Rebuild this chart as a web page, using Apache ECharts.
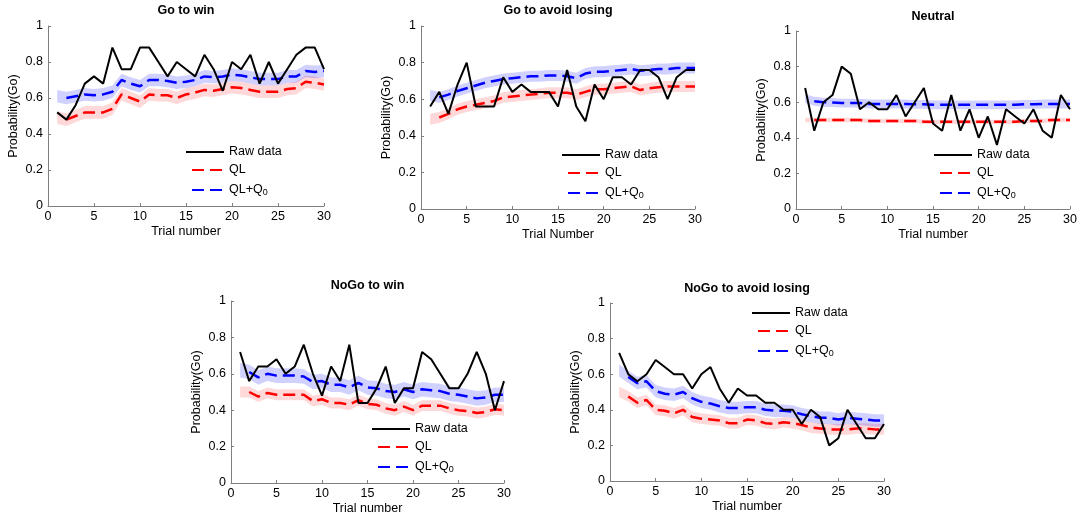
<!DOCTYPE html>
<html>
<head>
<meta charset="utf-8">
<script src="https://cdn.jsdelivr.net/npm/echarts@6/dist/echarts.min.js"></script>
<style>html,body{margin:0;padding:0;background:#fff}#c{width:1081px;height:518px}</style>
</head>
<body>
<div id="c"></div>
<script>
const trials = [1,2,3,4,5,6,7,8,9,10,11,12,13,14,15,16,17,18,19,20,21,22,23,24,25,26,27,28,29,30];
const titles = ['Go to win','Go to avoid losing','Neutral','NoGo to win','NoGo to avoid losing'];
const xNames = ['Trial number','Trial Number','Trial number','Trial number','Trial number'];
const yName = 'Probability(Go)';
const legendNames = ['Raw data','QL','QL+Q0'];

// Go to win
const rawGoWin = [0.52,0.48,0.56,0.68,0.72,0.68,0.88,0.76,0.76,0.88,0.88,0.80,0.72,0.80,0.76,0.72,0.84,0.76,0.64,0.80,0.76,0.84,0.68,0.80,0.68,0.76,0.84,0.88,0.88,0.76];
const qlGoWin  = [0.49,0.48,0.50,0.52,0.52,0.52,0.54,0.62,0.60,0.58,0.62,0.615,0.615,0.60,0.62,0.63,0.645,0.64,0.65,0.66,0.655,0.645,0.635,0.635,0.635,0.65,0.655,0.69,0.685,0.675];
const q0GoWin  = [0.61,0.60,0.61,0.62,0.615,0.62,0.635,0.70,0.68,0.665,0.70,0.70,0.695,0.685,0.69,0.70,0.72,0.715,0.72,0.73,0.725,0.715,0.705,0.705,0.705,0.72,0.72,0.75,0.745,0.75];
// Go to avoid losing
const rawGoAvoid = [0.56,0.64,0.52,0.68,0.80,0.56,0.56,0.56,0.72,0.64,0.68,0.64,0.64,0.64,0.56,0.76,0.56,0.48,0.68,0.60,0.72,0.72,0.68,0.76,0.76,0.72,0.60,0.72,0.76,0.76];
const qlGoAvoid  = [0.49,0.50,0.52,0.545,0.56,0.57,0.58,0.59,0.61,0.615,0.62,0.625,0.63,0.635,0.635,0.635,0.625,0.64,0.655,0.655,0.66,0.665,0.67,0.65,0.66,0.665,0.67,0.67,0.67,0.67];
const q0GoAvoid  = [0.62,0.61,0.625,0.645,0.66,0.675,0.69,0.70,0.71,0.715,0.72,0.725,0.725,0.73,0.73,0.725,0.715,0.74,0.75,0.75,0.755,0.76,0.765,0.755,0.76,0.765,0.765,0.77,0.77,0.77];
// Neutral
const rawNeutral = [0.68,0.44,0.60,0.64,0.80,0.76,0.56,0.60,0.56,0.56,0.64,0.52,0.60,0.68,0.48,0.44,0.64,0.44,0.56,0.40,0.52,0.36,0.56,0.52,0.48,0.56,0.44,0.40,0.64,0.56];
const qlNeutral  = [0.50,0.50,0.50,0.50,0.50,0.50,0.50,0.495,0.495,0.495,0.495,0.495,0.495,0.49,0.49,0.49,0.49,0.49,0.49,0.49,0.49,0.49,0.49,0.49,0.495,0.495,0.495,0.50,0.50,0.50];
const q0Neutral  = [0.62,0.605,0.60,0.598,0.595,0.595,0.595,0.59,0.59,0.59,0.59,0.59,0.588,0.588,0.585,0.585,0.585,0.585,0.585,0.585,0.585,0.585,0.585,0.585,0.588,0.588,0.59,0.59,0.59,0.59];
// NoGo to win
const rawNoGoWin = [0.72,0.56,0.64,0.64,0.68,0.60,0.64,0.76,0.60,0.48,0.64,0.56,0.76,0.44,0.44,0.52,0.64,0.44,0.52,0.52,0.72,0.68,0.60,0.52,0.52,0.60,0.72,0.60,0.40,0.56];
const qlNoGoWin  = [0.50,0.50,0.475,0.495,0.485,0.485,0.485,0.485,0.45,0.46,0.44,0.44,0.43,0.455,0.435,0.43,0.41,0.40,0.42,0.40,0.425,0.425,0.425,0.41,0.40,0.395,0.385,0.39,0.405,0.40];
const q0NoGoWin  = [0.62,0.61,0.58,0.60,0.59,0.59,0.59,0.585,0.555,0.56,0.54,0.54,0.525,0.55,0.525,0.52,0.505,0.50,0.515,0.50,0.515,0.51,0.505,0.49,0.485,0.475,0.465,0.47,0.485,0.485];
// NoGo to avoid losing
const rawNoGoAvoid = [0.72,0.60,0.56,0.60,0.68,0.64,0.60,0.60,0.52,0.60,0.64,0.52,0.44,0.52,0.48,0.48,0.44,0.44,0.40,0.40,0.32,0.40,0.36,0.20,0.24,0.40,0.32,0.24,0.24,0.32];
const qlNoGoAvoid  = [0.50,0.475,0.44,0.455,0.40,0.395,0.38,0.40,0.36,0.35,0.345,0.34,0.325,0.325,0.345,0.34,0.325,0.32,0.33,0.325,0.315,0.30,0.295,0.29,0.29,0.29,0.295,0.295,0.29,0.29];
const q0NoGoAvoid  = [0.62,0.585,0.55,0.56,0.505,0.49,0.485,0.50,0.465,0.445,0.435,0.42,0.41,0.41,0.415,0.415,0.40,0.395,0.395,0.39,0.375,0.365,0.355,0.355,0.345,0.355,0.35,0.345,0.34,0.34];

// shaded band half-widths (per panel)
const bandQL = [0.035, 0.03, 0.012, 0.03, 0.03];
const bandQ0 = [0.035, 0.03, 0.025, 0.04, 0.035];

const rawAll = [rawGoWin, rawGoAvoid, rawNeutral, rawNoGoWin, rawNoGoAvoid];
const qlAll  = [qlGoWin, qlGoAvoid, qlNeutral, qlNoGoWin, qlNoGoAvoid];
const q0All  = [q0GoWin, q0GoAvoid, q0Neutral, q0NoGoWin, q0NoGoAvoid];

// layout
const grids = [
  {left: 48,  top: 26,  width: 276, height: 180},
  {left: 421, top: 26,  width: 274, height: 183},
  {left: 796, top: 31,  width: 274, height: 178},
  {left: 231, top: 301, width: 273, height: 182},
  {left: 610, top: 303, width: 274, height: 178}
];
const titleY = [11, 11, 17, 286, 289];
const legendPos = [
  {left: 185, top: 145},
  {left: 561, top: 148},
  {left: 933, top: 148},
  {left: 371, top: 422},
  {left: 751, top: 306}
];

const FONT = 'Liberation Sans, Arial, sans-serif';
const AXIS_GRAY = '#7f7f7f';
const RED = '#ff0000', BLUE = '#0000ff';
const DASH = [12, 6];

const option = {
  animation: false,
  backgroundColor: '#ffffff',
  textStyle: {fontFamily: FONT},
  grid: grids,
  xAxis: [], yAxis: [], series: [], legend: [], graphic: []
};

function bandSeries(k, center, hw, color) {
  const data = trials.map((t, i) => [t, center[i] - hw, center[i] + hw]);
  return {
    type: 'custom', xAxisIndex: k, yAxisIndex: k, silent: true, z: 1,
    data: data,
    encode: {x: 0, y: [1, 2]},
    renderItem: function (params, api) {
      if (params.dataIndex !== 0) return null;
      const upper = data.map(d => api.coord([d[0], d[2]]));
      const lower = data.map(d => api.coord([d[0], d[1]])).reverse();
      return {
        type: 'polygon',
        shape: {points: upper.concat(lower)},
        style: {fill: color, stroke: null}
      };
    }
  };
}

grids.forEach((g, k) => {
  option.xAxis.push({
    type: 'value', gridIndex: k, min: 0, max: 30, interval: 5,
    name: xNames[k], nameLocation: 'middle', nameGap: 19,
    nameTextStyle: {color: '#000', fontSize: 12.5, fontFamily: FONT},
    axisLine: {lineStyle: {color: AXIS_GRAY, width: 1}},
    axisTick: {inside: true, length: 3, lineStyle: {color: AXIS_GRAY}},
    axisLabel: {color: '#000', fontSize: 12.5, margin: 4, fontFamily: FONT},
    splitLine: {show: false}
  });
  option.yAxis.push({
    type: 'value', gridIndex: k, min: 0, max: 1, interval: 0.2,
    name: yName, nameLocation: 'middle', nameGap: 28,
    nameTextStyle: {color: '#000', fontSize: 12.5, fontFamily: FONT},
    axisLine: {show: true, lineStyle: {color: AXIS_GRAY, width: 1}},
    axisTick: {show: true, inside: true, length: 3, lineStyle: {color: AXIS_GRAY}},
    axisLabel: {color: '#000', fontSize: 12.5, margin: 5, fontFamily: FONT},
    splitLine: {show: false}
  });

  const ql = qlAll[k], q0 = q0All[k], raw = rawAll[k];
  option.series.push(bandSeries(k, ql, bandQL[k], 'rgba(255,0,0,0.15)'));
  option.series.push(bandSeries(k, q0, bandQ0[k], 'rgba(0,0,255,0.18)'));
  option.series.push({
    type: 'line', name: 'QL', xAxisIndex: k, yAxisIndex: k,
    data: trials.slice(1).map((t, i) => [t, ql[i + 1]]),
    symbol: 'none', lineStyle: {color: RED, width: 2.5, type: DASH}, itemStyle: {color: RED}, z: 3
  });
  option.series.push({
    type: 'line', name: 'QL+Q0', xAxisIndex: k, yAxisIndex: k,
    data: trials.slice(1).map((t, i) => [t, q0[i + 1]]),
    symbol: 'none', lineStyle: {color: BLUE, width: 2.5, type: DASH}, itemStyle: {color: BLUE}, z: 3
  });
  option.series.push({
    type: 'line', name: 'Raw data', xAxisIndex: k, yAxisIndex: k,
    data: trials.map((t, i) => [t, raw[i]]),
    symbol: 'none', lineStyle: {color: '#000', width: 2}, itemStyle: {color: '#000'}, z: 4
  });

  option.legend.push({
    data: legendNames, orient: 'vertical',
    left: legendPos[k].left, top: legendPos[k].top, padding: 0,
    itemWidth: 38, itemHeight: 14, itemGap: 4, selectedMode: false,
    itemStyle: {opacity: 0},
    lineStyle: {dashOffset: 12},
    textStyle: {color: '#000', fontSize: 12.5, fontFamily: FONT, lineHeight: 14,
      rich: {sub: {fontSize: 9, fontFamily: FONT, color: '#000', padding: [7, 0, 0, 0], lineHeight: 14, verticalAlign: 'bottom'}}},
    formatter: n => n === 'QL+Q0' ? 'QL+Q{sub|0}' : n
  });

  option.graphic.push({
    type: 'text', x: g.left + g.width / 2, y: titleY[k],
    style: {text: titles[k], align: 'center', verticalAlign: 'middle',
      font: 'bold 12.5px ' + FONT, fill: '#000'}
  });
});

const chart = echarts.init(document.getElementById('c'), null, {renderer: 'canvas'});
chart.setOption(option);
</script>
</body>
</html>
